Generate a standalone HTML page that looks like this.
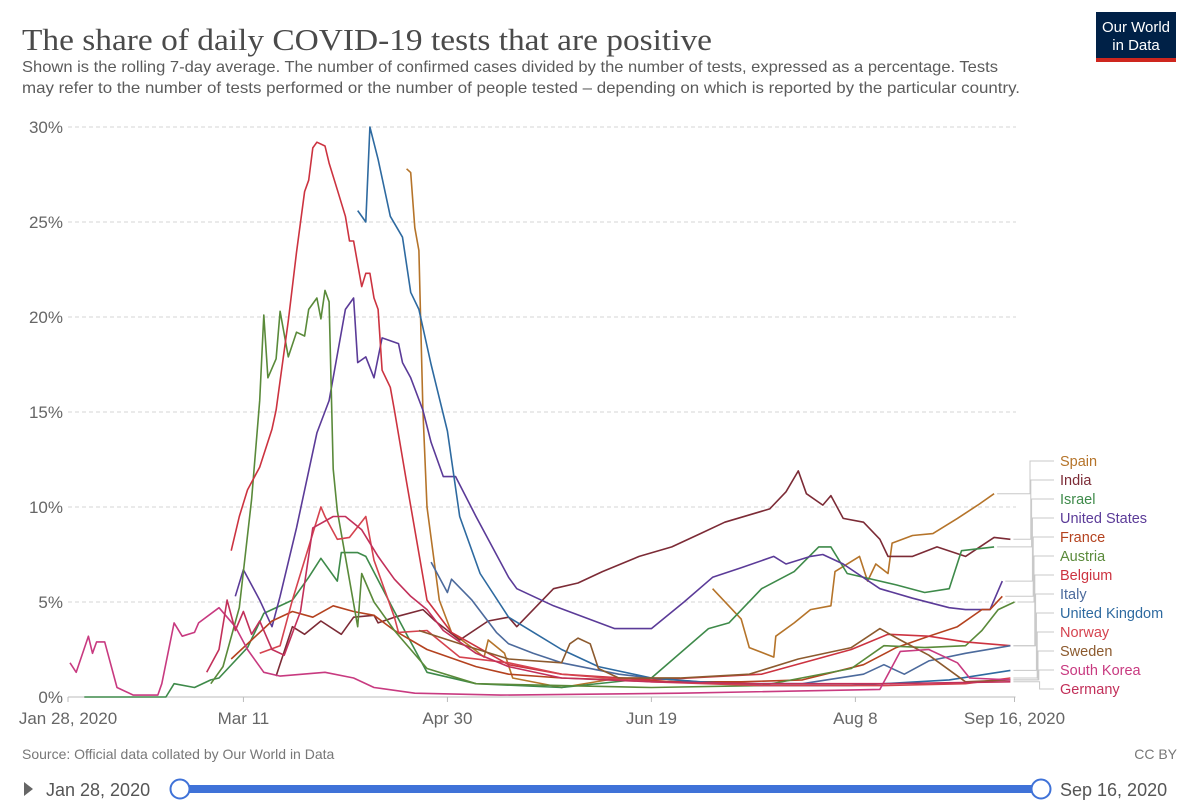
<!DOCTYPE html>
<html><head><meta charset="utf-8">
<style>
html,body{margin:0;padding:0;background:#fff;}
body{width:1200px;height:812px;overflow:hidden;position:relative;font-family:"Liberation Sans",sans-serif;}
svg{position:absolute;left:0;top:0;}
</style></head>
<body>
<svg id="chart" width="1200" height="812" viewBox="0 0 1200 812">
  <text x="22" y="50" font-family="Liberation Serif, serif" font-size="31" fill="#4a4a4a" textLength="690" lengthAdjust="spacingAndGlyphs">The share of daily COVID-19 tests that are positive</text>
  <text x="22" y="72" font-size="16" fill="#5b5b5b" textLength="976" lengthAdjust="spacingAndGlyphs">Shown is the rolling 7-day average. The number of confirmed cases divided by the number of tests, expressed as a percentage. Tests</text>
  <text x="22" y="93" font-size="16" fill="#5b5b5b" textLength="998" lengthAdjust="spacingAndGlyphs">may refer to the number of tests performed or the number of people tested – depending on which is reported by the particular country.</text>
  <g>
    <rect x="1096" y="12" width="80" height="50" fill="#002147"/>
    <rect x="1096" y="58" width="80" height="4" fill="#ce261e"/>
    <text x="1136" y="32" font-size="15" fill="#fff" text-anchor="middle">Our World</text>
    <text x="1136" y="50" font-size="15" fill="#fff" text-anchor="middle">in Data</text>
  </g>
  <g id="grid"></g>
  <g id="series"></g>
  <g id="legend"></g>
  <text x="22" y="759" font-size="14" fill="#777">Source: Official data collated by Our World in Data</text>
  <text x="1177" y="759" font-size="14" fill="#777" text-anchor="end">CC BY</text>
  <g>
    <polygon points="24,782 33,789 24,796" fill="#666"/>
    <text x="46" y="796" font-size="18" fill="#555">Jan 28, 2020</text>
    <rect x="180" y="785" width="861" height="8" fill="#3f72d8"/>
    <circle cx="180" cy="789" r="9.5" fill="#fff" stroke="#3f72d8" stroke-width="2"/>
    <circle cx="1041" cy="789" r="9.5" fill="#fff" stroke="#3f72d8" stroke-width="2"/>
    <text x="1060" y="796" font-size="18" fill="#555">Sep 16, 2020</text>
  </g>
</svg>
<script>
// Day offsets from Jan 28, 2020; values in percent
const yTicks = [0, 5, 10, 15, 20, 25, 30];
const xTickDays = [0, 43, 93, 143, 193, 232];
const xTickLabels = ["Jan 28, 2020", "Mar 11", "Apr 30", "Jun 19", "Aug 8", "Sep 16, 2020"];
const seriesNames = ["Spain","India","Israel","United States","France","Austria","Belgium","Italy","United Kingdom","Norway","Sweden","South Korea","Germany"];
const seriesColors = ["#b5742a","#7c2b36","#3e8a4a","#5b3b98","#b4421f","#5a8a3a","#cc3340","#4c6a9c","#2e6aa0","#d5434f","#8c5a2e","#c83a80","#c2305a"];

const spainDays = [83,84,85,86,87,88,91,94,99,102,103,107,109,121,135,150,151,158,165,167,173,173.5,178,182,187,188,194,196,198,201,202,207,212,218,223,227];
const spainVals = [27.8,27.6,24.7,23.5,15.1,10,5.1,3.4,2.6,2.1,3.0,2.3,1.0,0.5,1.0,1.0,null,5.7,4.1,2.6,2.1,3.2,3.9,4.6,4.8,6.6,7.4,6.1,7.0,6.5,8.1,8.5,8.6,9.4,10.1,10.7];
const indiaDays = [51,55,58,62,67,70,75,76,80,87,90,96,103,108,110,119,125,131,140,148,155,161,172,176,179,181,185,187,190,195,199,201,207,213,220,227,231];
const indiaVals = [1.1,3.7,3.3,4.0,3.3,4.2,4.3,3.9,4.2,4.6,4.0,3.0,4.0,4.2,3.7,5.7,6.0,6.6,7.4,7.9,8.6,9.2,9.9,10.8,11.9,10.7,10.1,10.6,9.4,9.2,8.3,7.4,7.4,7.9,7.4,8.4,8.3];
const israelDays = [4,24,26,31,35,37,44,48,55,59,62,66,67,71,73,80,88,100,121,143,157,162,170,178,184,187,191,203,210,216,219,227];
const israelVals = [0,0,0.7,0.5,0.9,1.0,2.6,4.4,5.1,6.3,7.3,6.1,7.6,7.6,7.4,4.5,1.3,0.7,0.5,1.0,3.6,3.9,5.7,6.6,7.9,7.9,6.5,5.9,5.5,5.7,7.7,7.9];
const usDays = [41,43,47,50,52,56,61,64,68,70,71,73,75,77,81,82,84,87,89,92,95,100,108,110,119,134,143,151,158,165,173,176,182,185,190,199,207,216,220,226,229];
const usVals = [5.3,6.7,5.1,3.7,5.3,8.9,13.9,15.6,20.4,21,17.6,17.9,16.8,18.9,18.6,17.6,16.8,15.1,13.4,11.6,11.6,9.5,6.3,5.7,4.8,3.6,3.6,5,6.3,6.8,7.4,7,7.4,7.5,7,5.7,5.2,4.7,4.6,4.6,6.1];
const franceDays = [40,45,50,55,60,65,70,75,80,88,100,108,121,135,150,165,180,195,203,211,218,224,226,229];
const franceVals = [2,3,4,4.5,4.2,4.8,4.5,4.3,3.5,2.5,1.6,1.2,1.0,0.9,0.8,0.8,0.9,1.7,2.6,3.2,3.7,4.6,4.6,5.3];
const austriaDays = [35,38,42,45,47,48,49,51,52,54,56,58,59,61,62,63,64,65,66,71,72,75,80,88,100,121,143,170,192,200,210,220,224,228,232];
const austriaVals = [0.7,1.6,4.7,10.4,15.6,20.1,16.8,17.8,20.3,17.9,19.2,19.0,20.4,21.0,19.9,21.4,20.8,12.0,9.8,3.7,6.5,5.0,3.5,1.5,0.7,0.6,0.5,0.6,1.5,2.7,2.6,2.7,3.5,4.6,5.0];
const belgiumDays = [40,42,44,47,50,51,54,56,58,59,60,61,63,64,66,68,69,70,72,73,74,75,76,77,79,80,83,88,94,108,121,143,170,192,201,211,220,231];
const belgiumVals = [7.7,9.5,10.9,12.1,14.1,15.1,19.8,23.4,26.6,27.2,28.9,29.2,29.0,28.1,26.7,25.3,24.0,24.0,21.6,22.3,22.3,21.0,20.4,17.2,16.3,15.1,11.3,5.1,3.4,1.7,1.2,0.9,1.2,2.5,3.3,3.2,2.9,2.7];
const italyDays = [89,93,94,99,105,108,114,121,135,143,160,180,195,200,205,211,220,231];
const italyVals = [7.1,5.5,6.2,5.1,3.4,2.8,2.3,1.8,1.2,1.0,0.7,0.7,1.2,1.7,1.2,1.9,2.3,2.7];
const ukDays = [71,73,74,76,79,82,84,86,89,93,96,101,108,121,130,143,155,170,192,216,231];
const ukVals = [25.6,25.0,30.0,28.3,25.3,24.2,21.3,20.4,17.5,14,9.5,6.5,4.2,2.5,1.6,1.0,0.8,0.6,0.6,0.9,1.4];
const norwayDays = [47,52,55,59,62,63,66,69,73,75,80,81,88,96,108,121,143,170,200,220,231];
const norwayVals = [2.3,2.7,5.1,7.9,10,9.5,8.3,8.4,9.5,7.2,4.2,3.4,3.5,2.1,1.8,1.2,0.8,0.6,0.6,0.7,1.0];
const swedenDays = [86,99,108,121,123,125,128,130,135,150,167,179,192,199,204,211,220,231];
const swedenVals = [3.5,2.6,2.0,1.8,2.8,3.1,2.8,1.5,1.0,1.0,1.2,2.0,2.6,3.6,3.0,2.2,0.8,0.9];
const koreaDays = [0.5,2,5,6,7,9,12,16,22,23,26,28,31,32,37,41,44,48,52,63,70,75,85,106,150,199,204,211,218,221,231];
const koreaVals = [1.8,1.3,3.2,2.3,2.9,2.9,0.5,0.1,0.1,0.7,3.9,3.2,3.4,3.9,4.7,3.7,2.5,1.3,1.1,1.3,1.0,0.5,0.2,0.1,0.2,0.4,2.4,2.5,1.8,1.0,0.9];
const germanyDays = [34,37,39,41,43,45,47,50,53,57,60,65,68,72,76,80,84,88,92,100,108,121,143,170,200,231];
const germanyVals = [1.3,2.5,5.1,3.5,4.5,3.3,4.0,2.5,2.2,4.5,8.9,9.5,9.5,8.8,7.4,6.2,5.3,4.6,3.5,2.3,1.6,1.0,0.8,0.7,0.7,0.8];

const seriesDays = [spainDays,indiaDays,israelDays,usDays,franceDays,austriaDays,belgiumDays,italyDays,ukDays,norwayDays,swedenDays,koreaDays,germanyDays];
const seriesVals = [spainVals,indiaVals,israelVals,usVals,franceVals,austriaVals,belgiumVals,italyVals,ukVals,norwayVals,swedenVals,koreaVals,germanyVals];

const NS = "http://www.w3.org/2000/svg";
const X0 = 68, X1 = 1014.5, DMAX = 232, Y0 = 697, YPER = 19;
function xScale(d){ return X0 + (X1 - X0) * d / DMAX; }
function yScale(v){ return Y0 - v * YPER; }
function mk(tag, attrs, parent){ const e = document.createElementNS(NS, tag); for (const k in attrs) e.setAttribute(k, attrs[k]); parent.appendChild(e); return e; }

const grid = document.getElementById("grid");
yTicks.forEach(function(t){
  const y = yScale(t);
  if (t > 0) {
    const gl = mk("line", {x1: X0, x2: 1016, y1: y, y2: y, stroke: "#d4d4d4", "stroke-dasharray": "4,3", "stroke-width": 1}, grid);
    
    
  }
  const tl = mk("text", {x: 63, y: y + 6, "font-size": 17, fill: "#666", "text-anchor": "end"}, grid);
  tl.textContent = t + "%";
  
  
});
const axis = mk("line", {x1: X0, x2: X1 + 1, y1: Y0, y2: Y0, stroke: "#bbb", "stroke-width": 1}, grid);


xTickDays.forEach(function(d, i){
  const x = xScale(d);
  const tk = mk("line", {x1: x, x2: x, y1: Y0, y2: Y0 + 5, stroke: "#bbb"}, grid);
  
  
  const tl = mk("text", {x: x, y: Y0 + 27, "font-size": 17, fill: "#666", "text-anchor": "middle"}, grid);
  tl.textContent = xTickLabels[i];
  
  
});

const sg = document.getElementById("series");
const lg = document.getElementById("legend");
seriesNames.forEach(function(name, i){
  const days = seriesDays[i], vals = seriesVals[i];
  let dstr = "", pen = false, lastX = 0, lastY = 0;
  for (let k = 0; k < days.length; k++) {
    if (vals[k] === null) { pen = false; continue; }
    const x = xScale(days[k]), y = yScale(vals[k]);
    dstr += (pen ? "L" : "M") + x.toFixed(1) + "," + y.toFixed(1);
    pen = true; lastX = x; lastY = y;
  }
  const slug = name.toLowerCase().replace(/ /g, "-");
  const p = mk("path", {d: dstr, fill: "none", stroke: seriesColors[i], "stroke-width": 1.6, "stroke-linejoin": "round"}, sg);
  
  
  const ly = 461 + i * 19;
  const kxx = 1030 + i * 0.8;
  const leader = mk("polyline", {points: (lastX + 3) + "," + lastY + " " + kxx + "," + lastY + " " + kxx + "," + ly + " " + 1054 + "," + ly, fill: "none", stroke: "#c8c8c8", "stroke-width": 1}, lg);
  
  
  const t = mk("text", {x: 1060, y: ly + 5, "font-size": 14.5, fill: seriesColors[i]}, lg);
  t.textContent = name;
  
  
});
</script>
</body></html>
